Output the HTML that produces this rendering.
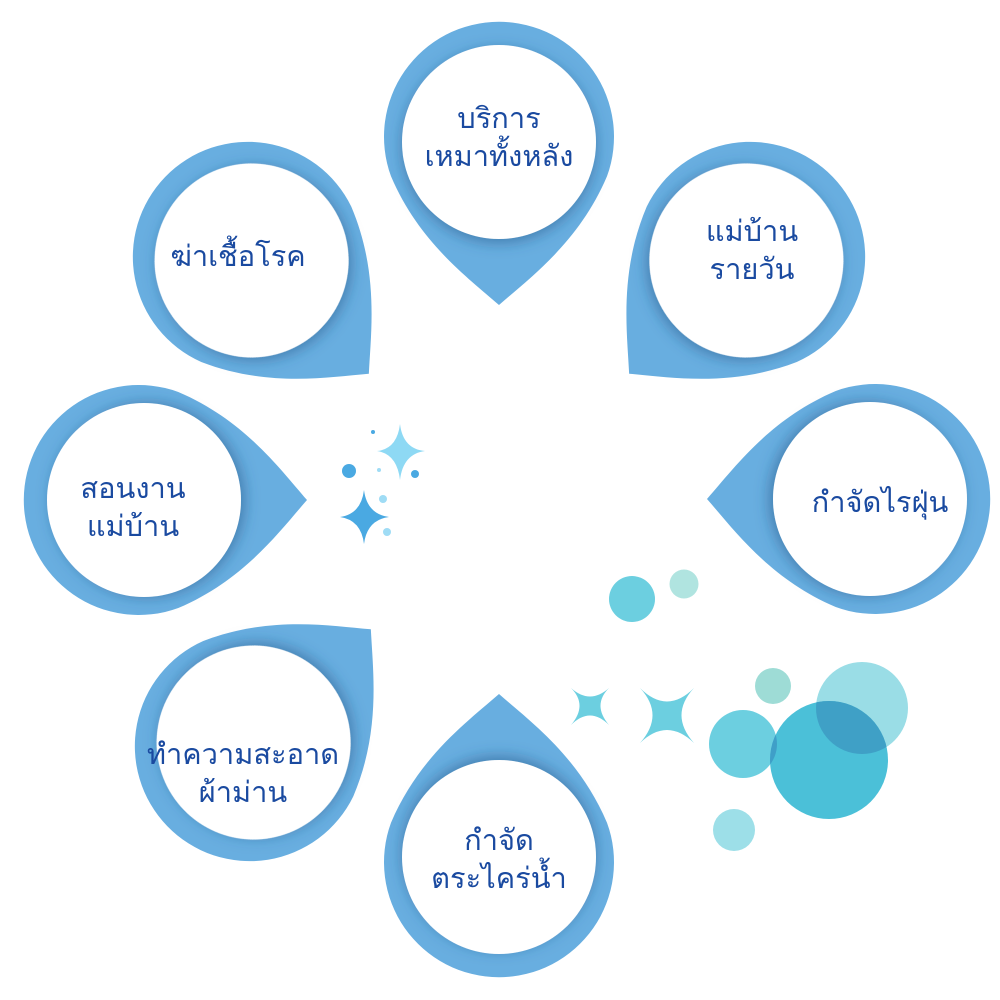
<!DOCTYPE html>
<html><head><meta charset="utf-8"><style>
html,body{margin:0;padding:0;background:#fff;}
svg{display:block}
text{font-family:"Liberation Sans","Noto Sans CJK SC",sans-serif;fill:#1a4aa0;font-size:29px;text-anchor:middle;}
</style></head><body>
<svg width="1000" height="1000" viewBox="0 0 1000 1000">
<defs>
<filter id="sh" x="-30%" y="-30%" width="160%" height="160%">
<feDropShadow dx="4" dy="0" stdDeviation="7" flood-color="#1e4f80" flood-opacity="0.5"/>
</filter>
<g id="drop">
<path d="M168 0 C140 32 105 80 39.3 108 A115 115 0 1 1 39.3 -108 C105 -80 140 -32 168 0 Z" fill="#68aee0"/>
<circle cx="5" cy="0" r="97" fill="#fff" filter="url(#sh)"/>
</g>
<clipPath id="c1"><circle cx="862" cy="708" r="46"/></clipPath>
<clipPath id="c2"><circle cx="743" cy="744" r="34"/></clipPath>
</defs>
<use href="#drop" transform="translate(499,137) rotate(90)"/>
<use href="#drop" transform="translate(750,257) rotate(136)"/>
<use href="#drop" transform="translate(875,499) rotate(180)"/>
<use href="#drop" transform="translate(499,862) rotate(-90)"/>
<use href="#drop" transform="translate(250,746) rotate(-44)"/>
<use href="#drop" transform="translate(139,500) rotate(0)"/>
<use href="#drop" transform="translate(248,257) rotate(44)"/>

<text x="499" y="128">บริการ</text>
<text x="499" y="166">เหมาทั้งหลัง</text>
<text x="752" y="241">แม่บ้าน</text>
<text x="752" y="279">รายวัน</text>
<text x="880" y="512">กำจัดไรฝุ่น</text>
<text x="499" y="850">กำจัด</text>
<text x="499" y="888">ตระไคร่น้ำ</text>
<text x="243" y="764">ทำความสะอาด</text>
<text x="243" y="802">ผ้าม่าน</text>
<text x="133" y="498">สอนงาน</text>
<text x="133" y="536">แม่บ้าน</text>
<text x="238" y="266">ฆ่าเชื้อโรค</text>

<path d="M400 424 Q403 449 425 451 Q403 454 400 480 Q397 454 377 451 Q397 449 400 424Z" fill="#8ed9f4"/>
<path d="M364 490 Q367 514 389 517 Q367 520 364 544 Q361 520 340 517 Q361 514 364 490Z" fill="#4aa9e2"/>
<circle cx="349" cy="471" r="7" fill="#4aa9e2"/>
<circle cx="415" cy="474" r="4" fill="#4aa9e2"/>
<circle cx="373" cy="432" r="2" fill="#4aa9e2"/>
<circle cx="379" cy="470" r="2" fill="#9fdcf5"/>
<circle cx="383" cy="499" r="4" fill="#9fdcf5"/>
<circle cx="387" cy="532" r="4" fill="#9fdcf5"/>

<circle cx="632" cy="599" r="23" fill="#6ccfe0"/>
<circle cx="684" cy="584" r="14.5" fill="#b0e4e0"/>
<circle cx="773" cy="686" r="18" fill="#9edcd6"/>
<circle cx="743" cy="744" r="34" fill="#6ccfe0"/>
<circle cx="862" cy="708" r="46" fill="#9adde6"/>
<circle cx="829" cy="760" r="59" fill="#4bc0d8"/>
<circle cx="829" cy="760" r="59" fill="#3fa0c6" clip-path="url(#c1)"/>
<circle cx="829" cy="760" r="59" fill="#3f9fc8" clip-path="url(#c2)"/>
<circle cx="734" cy="830" r="21" fill="#9ddfe8"/>
<path d="M571 688 Q590 705 609 688 Q592 705 609 725 Q590 706 571 725 Q588 705 571 688Z" fill="#6ccfe0"/>
<path d="M640 688 Q667 715 694 688 Q669 715 694 743 Q667 717 640 743 Q665 715 640 688Z" fill="#6ccfe0"/>
</svg>
</body></html>
